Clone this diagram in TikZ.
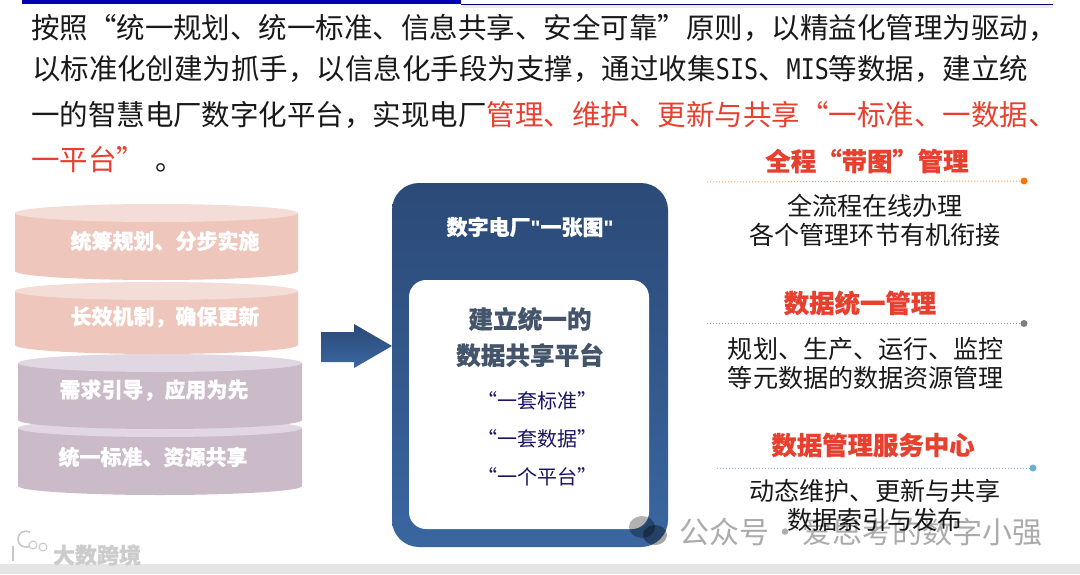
\documentclass[tikz,border=0pt]{standalone}
\usepackage{fontspec}
\setmainfont{Noto Sans CJK SC}[BoldFeatures={FakeBold=0.5}]
\newfontfamily\latinbold{Liberation Sans Bold}
\newfontfamily\monof[FakeStretch=0.82]{DejaVu Sans Mono}
\definecolor{salmonbody}{HTML}{EFC6BC}
\definecolor{salmontop}{HTML}{F5DDD7}
\definecolor{plumbody}{HTML}{CBBBC9}
\definecolor{plumtop}{HTML}{E0D7E2}
\definecolor{navytop}{HTML}{2B4A77}
\definecolor{navybot}{HTML}{3A66A0}
\definecolor{redtxt}{HTML}{E8402F}
\definecolor{slatetxt}{HTML}{44546A}
\definecolor{indigotxt}{HTML}{1A1464}
\definecolor{dotorange}{HTML}{FF7300}
\definecolor{dotgrey}{HTML}{7F7F7F}
\definecolor{dotsky}{HTML}{6BAED6}
\tikzset{
  x=1pt,y=-1pt,
  every node/.style={inner sep=0pt,outer sep=0pt},
  lead/.style={anchor=west,font=\fontsize{28.5}{30}\selectfont,text=black!90},
  drumlabel/.style={font=\fontsize{21}{24}\selectfont\bfseries,text=white},
  headred/.style={font=\fontsize{25.4}{28}\selectfont\bfseries,text=redtxt},
  bodytxt/.style={font=\fontsize{25.1}{28}\selectfont,text=black!90},
  platehead/.style={font=\fontsize{24.6}{28}\selectfont\bfseries,text=slatetxt},
  platesub/.style={font=\fontsize{20}{24}\selectfont,text=indigotxt},
  rulerdot/.style={dotted,line width=1pt},
}
\newcommand{\drum}[7]{% x1,x2,ytopcentre,ysidebottom,ry,bodycol,topcol
  \fill[#6] (#1,#3) -- (#1,#4) arc[start angle=180,end angle=0,x radius={(#2-#1)/2},y radius=#5] -- (#2,#3) -- cycle;
  \fill[#7] ({(#1+#2)/2},#3) ellipse[x radius={(#2-#1)/2},y radius=#5];
}
\begin{document}
\begin{tikzpicture}
\useasboundingbox (0,0) rectangle (1080,574);
\fill[white] (0,0) rectangle (1080,574);
% top rules and bottom band
\fill[black!8] (461,5) rectangle (1053,8);
\fill[blue!70!black] (22,0) rectangle (461,3.5);
\fill[blue!50!black] (461,3.5) rectangle (1053,5);
\fill[black!10] (0,564) rectangle (1080,574);
% lead text
\node[lead] (l1) at (31,28) {按照“统一规划、统一标准、信息共享、安全可靠”原则，以精益化管理为驱动，};
\node[lead] (l2) at (32,69) {以标准化创建为抓手，以信息化手段为支撑，通过收集{\monof SIS}、{\monof MIS}等数据，建立统};
\node[lead] (l3) at (31,115) {一的智慧电厂数字化平台，实现电厂\textcolor{redtxt}{管理、维护、更新与共享“一标准、一数据、}};
\node[lead] (l4) at (31,160) {\textcolor{redtxt}{一平台”}\hspace{10pt}。};
% drums
\drum{18}{302}{428}{486}{9}{plumbody}{plumtop}
\drum{18}{302}{363}{420}{9}{plumbody}{plumtop}
\drum{15}{298}{213}{271}{9}{salmonbody}{salmontop}
\drum{15}{298}{291}{345}{9}{salmonbody}{salmontop}
\node[drumlabel] (d1) at (165,241) {统筹规划、分步实施};
\node[drumlabel] (d2) at (165,317) {长效机制，确保更新};
\node[drumlabel] (d3) at (154,390) {需求引导，应用为先};
\node[drumlabel] (d4) at (153,457) {统一标准、资源共享};
% block arrow
\shade[top color=navytop,bottom color=navybot] (321,332) -- (354,332) -- (354,324) -- (392,346) -- (354,368) -- (354,362) -- (321,362) -- cycle;
% plate
\shade[top color=navytop,bottom color=navybot,rounded corners=27pt] (392,183) rectangle (668,547);
\fill[white,rounded corners=17pt] (409,280) rectangle (649,529);
\node[font=\fontsize{21}{24}\selectfont\bfseries,text=white] (pt) at (530,227) {数字电厂{\latinbold\symbol{34}}一张图{\latinbold\symbol{34}}};
\node[platehead] (p1) at (530,319) {建立统一的};
\node[platehead] (p2) at (530,355) {数据共享平台};
\node[platesub] (s1) at (537,401) {“一套标准”};
\node[platesub] (s2) at (537,439) {“一套数据”};
\node[platesub] (s3) at (537,477) {“一个平台”};
% right column
\node[headred] (h1) at (867,161) {全程“带图”管理};
\coordinate (a1) at (707,182); \coordinate (b1) at (1024,181);
\draw[rulerdot,dotorange!70] (a1) -- (b1);
\fill[dotorange] (b1) circle[radius=3.5];
\node[bodytxt] (t1) at (875,206) {全流程在线办理};
\node[bodytxt] (t2) at (875,235) {各个管理环节有机衔接};
\node[headred] (h2) at (860,303) {数据统一管理};
\coordinate (a2) at (707,323.5); \coordinate (b2) at (1024,323.5);
\draw[rulerdot,dotgrey!80] (a2) -- (b2);
\fill[dotgrey] (b2) circle[radius=3.5];
\node[bodytxt] (t3) at (866,349) {规划、生产、运行、监控};
\node[bodytxt] (t4) at (866,378) {等元数据的数据资源管理};
\node[headred] (h3) at (873,445) {数据管理服务中心};
\coordinate (a3) at (717,468); \coordinate (b3) at (1033,468);
\draw[rulerdot,dotsky!80] (a3) -- (b3);
\fill[dotsky] (b3) circle[radius=3.5];
\node[bodytxt] (t5) at (875,491) {动态维护、更新与共享};
\node[bodytxt] (t6) at (875,520) {数据索引与发布};
% watermarks
\fill[black,opacity=.3] (642,527) ellipse[x radius=13,y radius=11];
\fill[black,opacity=.35] (655,535) ellipse[x radius=12,y radius=10];
\node[anchor=west,font=\fontsize{30}{30}\selectfont,text=black,opacity=.33] (wm) at (679,532) {\spaceskip=2pt\relax 公众号 · 爱思考的数字小强};
\node[anchor=west,font=\fontsize{22}{24}\selectfont\bfseries,text=black!20] (wm2) at (53,555) {大数跨境};
\draw[black!22,line width=1.6pt] (13,546) -- (13,561);
\draw[black!22,line width=1.6pt] (30,546) arc[start angle=60,end angle=300,radius=8];
\draw[black!22,line width=1pt] (33,545) circle[radius=4] (43,547) circle[radius=4];
\end{tikzpicture}
\end{document}
